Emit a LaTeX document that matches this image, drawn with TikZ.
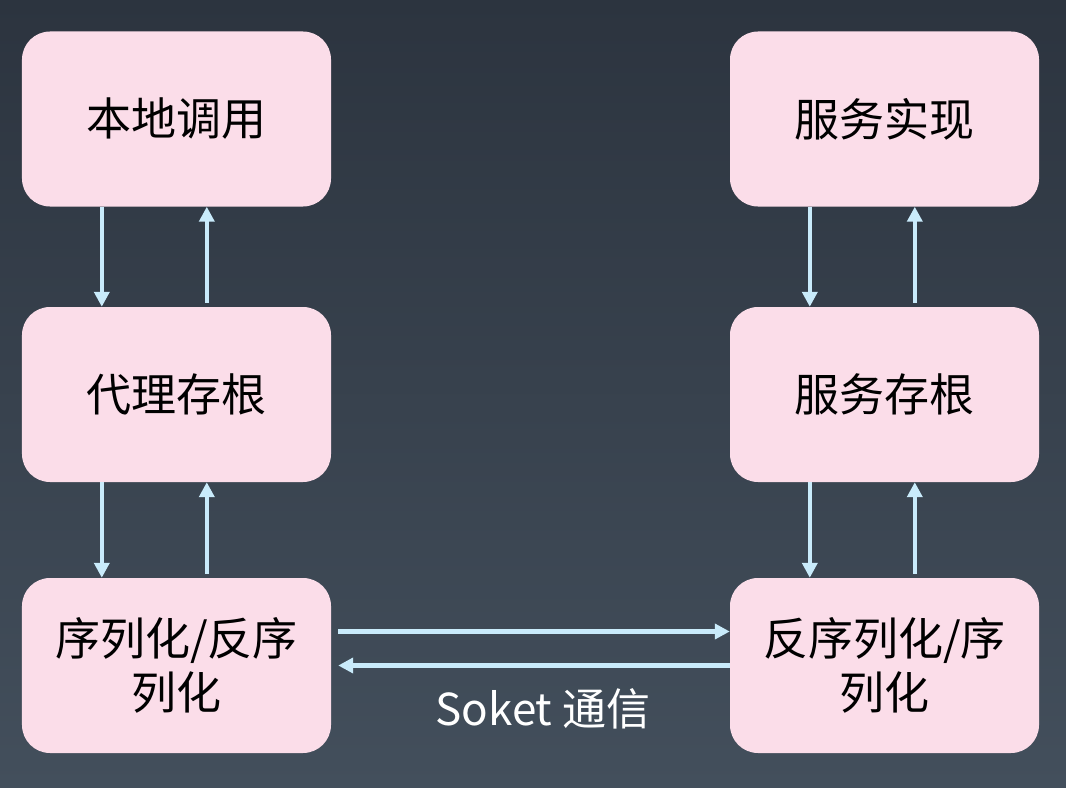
\documentclass[tikz,border=0pt]{standalone}
\usepackage{fontspec}
\setmainfont{Noto Sans CJK SC}
\usetikzlibrary{arrows.meta}
\definecolor{bgtop}{HTML}{2C343F}
\definecolor{bgbot}{HTML}{434F5C}
\definecolor{boxfill}{HTML}{FBDDE9}
\definecolor{arrowc}{HTML}{C9EBFB}
\begin{document}
\begin{tikzpicture}[x=1bp,y=-1bp,
  box/.style={fill=boxfill,draw=none,rounded corners=28bp,minimum width=309bp,minimum height=175bp,
    inner sep=0pt,align=center,font=\fontsize{45bp}{54bp}\selectfont,text=black},
  conn/.style={draw=arrowc,line width=4.5bp,-{Triangle[length=15bp,width=15bp]}}]
\shade[top color=bgtop,bottom color=bgbot] (0,0) rectangle (1066,788);
\useasboundingbox (0,0) rectangle (1066,788);
\node[box] (l1) at (176.5,119) {本地调用};
\node[box] (l2) at (176.5,394.5) {代理存根};
\node[box] (l3) at (176.5,665.5) {序列化/反序\\列化};
\node[box] (r1) at (884.5,119) {服务实现};
\node[box] (r2) at (884.5,394.5) {服务存根};
\node[box] (r3) at (884.5,665.5) {反序列化/序\\列化};
\foreach \a/\b in {l1/l2,l2/l3,r1/r2,r2/r3}{
  \draw[conn] ([xshift=80bp]\a.south west) -- ([xshift=80bp]\b.north west);
  \draw[conn,shorten <=4bp] ([xshift=185bp]\b.north west) -- ([xshift=185bp]\a.south west);
}
\draw[conn,shorten <=7bp] ([yshift=34bp]l3.east) -- ([yshift=34bp]l3.east -| r3.west);
\draw[conn,shorten >=7bp] (r3.west) -- (r3.west -| l3.east);
\node[text=white,font=\fontsize{44bp}{48bp}\selectfont,anchor=center] (lbl) at (543,709) {Soket 通信};
\end{tikzpicture}
\end{document}
